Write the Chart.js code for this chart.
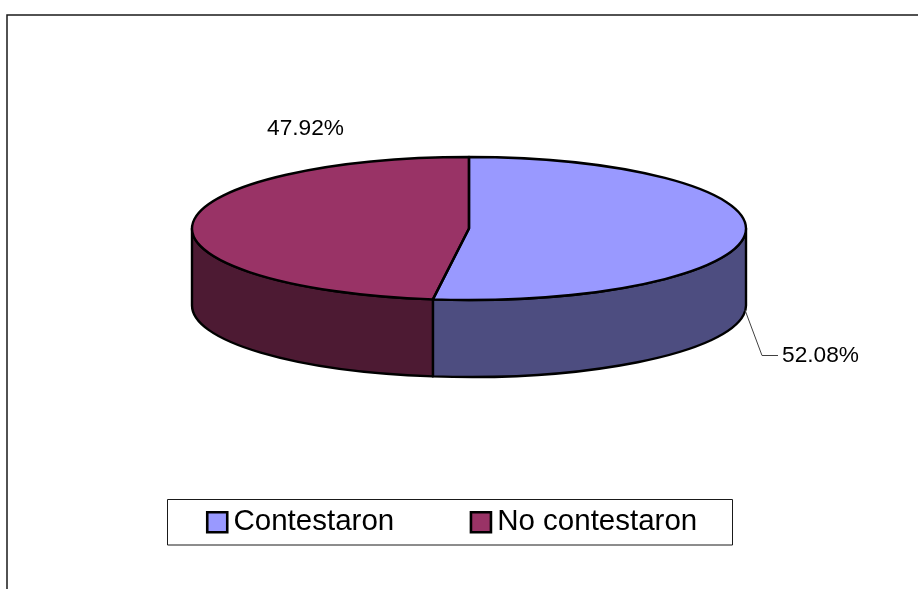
<!DOCTYPE html>
<html>
<head>
<meta charset="utf-8">
<title>Contestaron</title>
<script src="https://cdn.jsdelivr.net/npm/chart.js@4"></script>
<style>
    html, body { margin: 0; padding: 0; background: #fff; overflow: hidden; }
    canvas { display: block; }
</style>
</head>
<body>
<canvas id="grafico" width="918" height="589"></canvas>
<script>
// Datos
const categorias = ['Contestaron', 'No contestaron'];
const valores = [52.08, 47.92];
const coloresTapa = ['#9999FF', '#993366'];
const coloresLado = ['#4D4D80', '#4D1A33'];

// Geometria de la torta 3D (elipse de la tapa y altura del lado)
const torta = { cx: 469, cy: 228.5, rx: 277, ry: 71.5, alto: 77 };
// Posicion de cada etiqueta de porcentaje
const posEtiquetas = [{ x: 820.5, y: 356 }, { x: 305.5, y: 129 }];

const fuente = 'Arial, "Liberation Sans", sans-serif';

// Marco del grafico (solo izquierda y arriba entran en la imagen)
const pluginMarco = {
    id: 'marco',
    beforeDraw(chart) {
        const ctx = chart.ctx;
        ctx.save();
        ctx.strokeStyle = '#1a1a1a';
        ctx.lineWidth = 1.5;
        ctx.beginPath();
        ctx.moveTo(7, chart.height);
        ctx.lineTo(7, 15);
        ctx.lineTo(chart.width, 15);
        ctx.stroke();
        ctx.restore();
    }
};

// Lados de la torta, debajo de la tapa
function dibujarLados(chart) {
    const ctx = chart.ctx;
    const { cx, cy, rx, ry, alto } = torta;
    chart.getDatasetMeta(0).data.forEach((arco, i) => {
        // Solo se ve la mitad delantera (angulos de 0 a PI)
        const desde = Math.max(arco.startAngle, 0);
        const hasta = Math.min(arco.endAngle, Math.PI);
        if (hasta <= desde) return;
        ctx.beginPath();
        ctx.ellipse(cx, cy, rx, ry, 0, desde, hasta);
        ctx.ellipse(cx, cy + alto, rx, ry, 0, hasta, desde, true);
        ctx.closePath();
        ctx.fillStyle = coloresLado[i];
        ctx.fill();
        ctx.strokeStyle = '#000';
        ctx.lineWidth = 2.4;
        ctx.lineJoin = 'round';
        ctx.stroke();
    });
}

// Contorno de la tapa, sin deformar el grosor de linea
function dibujarContorno(chart) {
    const ctx = chart.ctx;
    const { cx, cy, rx, ry } = torta;
    ctx.strokeStyle = '#000';
    ctx.lineWidth = 2.4;
    ctx.lineJoin = 'round';
    chart.getDatasetMeta(0).data.forEach(arco => {
        ctx.beginPath();
        ctx.moveTo(cx, cy);
        ctx.ellipse(cx, cy, rx, ry, 0, arco.startAngle, arco.endAngle);
        ctx.closePath();
        ctx.stroke();
    });
}

// Aplasta la torta de Chart.js para que quede como elipse
const pluginTorta3D = {
    id: 'torta3D',
    beforeDatasetsDraw(chart) {
        const ctx = chart.ctx;
        const arco = chart.getDatasetMeta(0).data[0];
        dibujarLados(chart);
        ctx.save();
        ctx.translate(torta.cx, torta.cy);
        ctx.scale(torta.rx / arco.outerRadius, torta.ry / arco.outerRadius);
        ctx.translate(-arco.x, -arco.y);
    },
    afterDatasetsDraw(chart) {
        const ctx = chart.ctx;
        ctx.restore();
        dibujarContorno(chart);

        // Linea guia de la etiqueta 52.08%
        ctx.save();
        ctx.strokeStyle = '#404040';
        ctx.lineWidth = 1;
        ctx.beginPath();
        ctx.moveTo(745, 310);
        ctx.lineTo(762, 355.5);
        ctx.lineTo(778, 355.5);
        ctx.stroke();

        // Etiquetas de porcentaje
        ctx.fillStyle = '#000';
        ctx.font = '22.7px ' + fuente;
        ctx.textAlign = 'center';
        ctx.textBaseline = 'middle';
        valores.forEach((v, i) => {
            ctx.fillText(v.toFixed(2) + '%', posEtiquetas[i].x, posEtiquetas[i].y);
        });
        ctx.restore();
    }
};

// Recuadro alrededor de la leyenda
const pluginCajaLeyenda = {
    id: 'cajaLeyenda',
    afterDraw(chart) {
        const ctx = chart.ctx;
        ctx.save();
        ctx.strokeStyle = '#1a1a1a';
        ctx.lineWidth = 1;
        ctx.strokeRect(167.5, 499.5, 565, 45.5);
        ctx.restore();
    }
};

new Chart(document.getElementById('grafico'), {
    type: 'pie',
    data: {
        labels: categorias,
        datasets: [{
            data: valores,
            backgroundColor: coloresTapa,
            borderWidth: 0,
            clip: false
        }]
    },
    options: {
        responsive: false,
        animation: false,
        layout: { padding: { bottom: 42, right: 5 } },
        plugins: {
            tooltip: { enabled: false },
            legend: {
                position: 'bottom',
                labels: {
                    color: '#000',
                    font: { family: fuente, size: 29.5 },
                    padding: 85.25,
                    usePointStyle: true,
                    pointStyle: 'rect',
                    // boxWidth chico para acercar el texto al cuadrito
                    boxWidth: 3,
                    boxHeight: 20,
                    generateLabels(chart) {
                        return categorias.map((c, i) => ({
                            text: c,
                            fillStyle: coloresTapa[i],
                            strokeStyle: '#000',
                            lineWidth: 2.6,
                            pointStyle: 'rect',
                            index: i
                        }));
                    }
                }
            }
        }
    },
    plugins: [pluginMarco, pluginTorta3D, pluginCajaLeyenda]
});
</script>
</body>
</html>
